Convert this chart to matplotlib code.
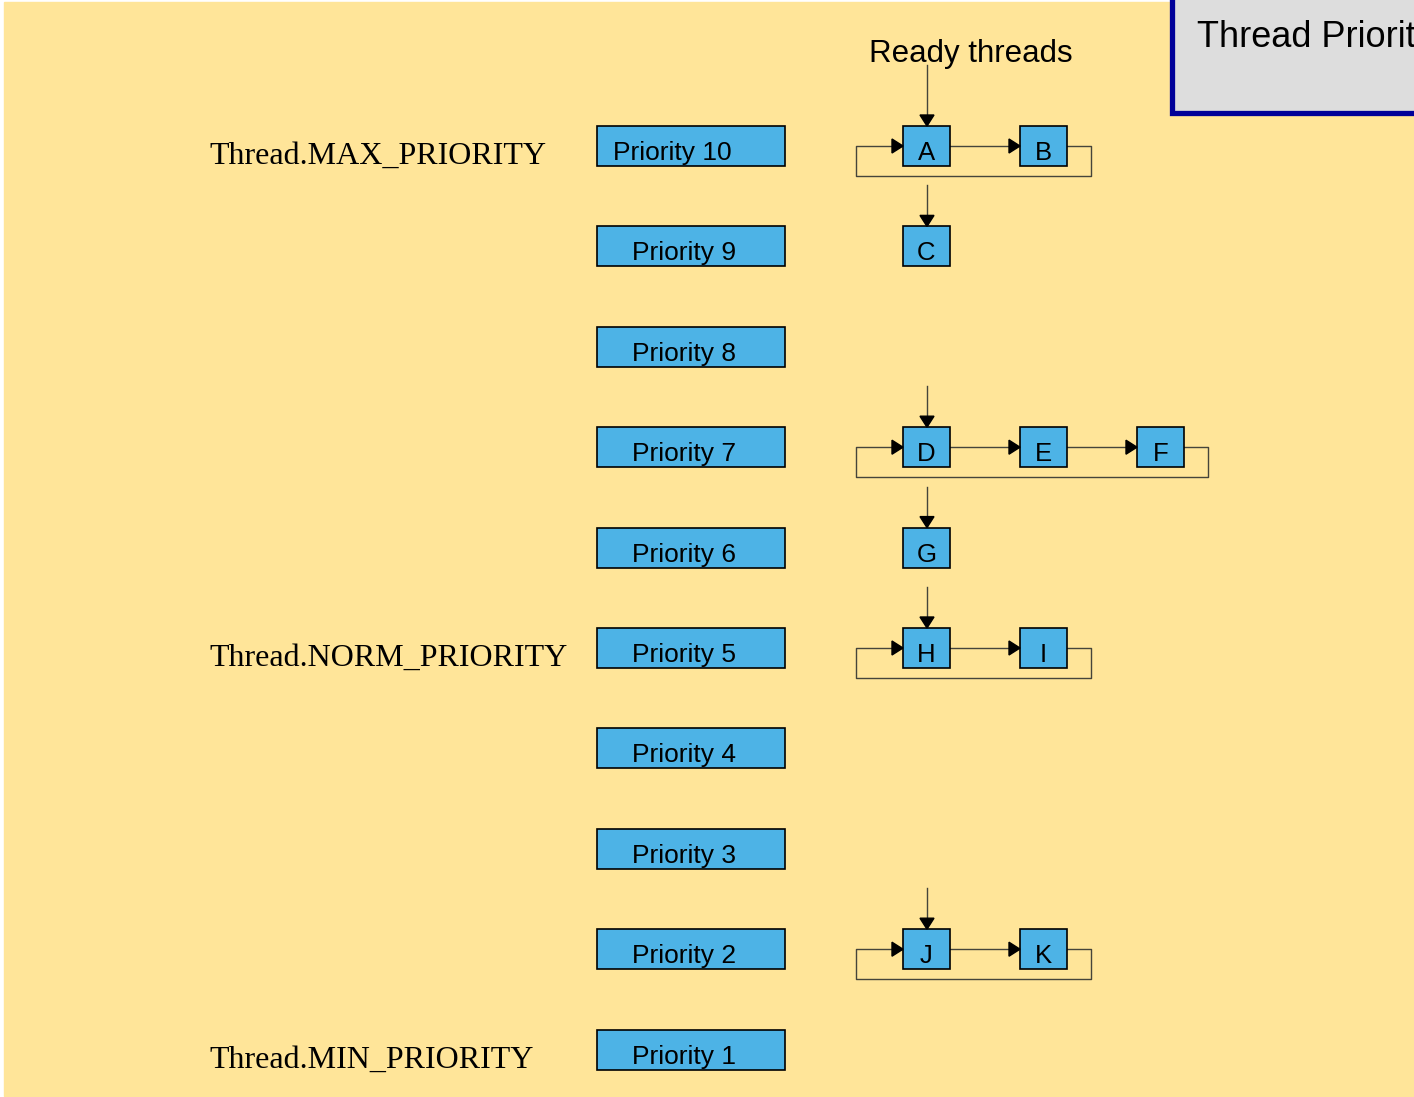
import matplotlib.pyplot as plt
from matplotlib.patches import Rectangle

# data
priorities = [10, 9, 8, 7, 6, 5, 4, 3, 2, 1]
priority_labels = ['Priority %d' % p for p in priorities]
constant_priorities = [10, 5, 1]
constant_names = ['Thread.MAX_PRIORITY', 'Thread.NORM_PRIORITY', 'Thread.MIN_PRIORITY']
queue_priorities = [10, 9, 7, 6, 5, 2]
queue_threads = [['A', 'B'], ['C'], ['D', 'E', 'F'], ['G'], ['H', 'I'], ['J', 'K']]

yellow = '#FFE599'
blue = '#4DB3E6'
line_c = '#45443a'

fig = plt.figure(figsize=(14.14, 10.97), dpi=100)
ax = fig.add_axes([0, 0, 1, 1])
ax.set_xlim(0, 1414)
ax.set_ylim(1097, 0)
ax.axis('off')

ax.add_patch(Rectangle((4, 2), 1410, 1094, color=yellow, zorder=0))


def row_top(p):
    return 126 + (10 - p) * 100.4


def head(x, y, direction):
    # small black triangle pointing right ('r') or down ('d')
    if direction == 'r':
        ax.fill([x, x - 11, x - 11], [y, y - 7, y + 7], color='black', zorder=4)
    else:
        ax.fill([x, x - 7, x + 7], [y, y - 11, y - 11], color='black', zorder=4)


# priority boxes
for p, lab in zip(priorities, priority_labels):
    top = row_top(p)
    ax.add_patch(Rectangle((597, top), 188, 40, facecolor=blue, edgecolor='black', lw=1.2, zorder=2))
    x0 = 613 if p == 10 else 632
    ax.text(x0, top + 34, lab, fontsize=19, family='Liberation Sans', ha='left', va='baseline', zorder=3)

# constant names
for p, name in zip(constant_priorities, constant_names):
    ax.text(209, row_top(p) + 38, name, fontsize=23, family='Liberation Serif', ha='left', va='baseline')

ax.text(971, 62, 'Ready threads', fontsize=22.5, family='Liberation Sans', ha='center', va='baseline')

# thread queues
for qi, (p, threads) in enumerate(zip(queue_priorities, queue_threads)):
    top = row_top(p)
    mid = top + 20
    xs = [903 + 117 * i for i in range(len(threads))]
    for x, t in zip(xs, threads):
        ax.add_patch(Rectangle((x, top), 47, 40, facecolor=blue, edgecolor='black', lw=1.2, zorder=2))
        ax.text(x + 23.5, top + 34, t, fontsize=18.5, family='Liberation Sans', ha='center', va='baseline', zorder=3)
    # entry arrow
    start = 65 if qi == 0 else top - 41
    ax.plot([927, 927], [start, top - 1], color=line_c, lw=1, zorder=1)
    head(927, top, 'd')
    if len(threads) > 1:
        for a, b in zip(xs[:-1], xs[1:]):
            ax.plot([a + 47, b - 1], [mid, mid], color=line_c, lw=1, zorder=1)
            head(b, mid, 'r')
        right = xs[-1] + 47 + 24
        bottom = top + 50
        ax.plot([xs[-1] + 47, right, right, 856, 856, 902], [mid, mid, bottom, bottom, mid, mid],
                color=line_c, lw=1, zorder=1)
        head(903, mid, 'r')

# title box in the corner
ax.add_patch(Rectangle((1172, -20), 280, 133, facecolor='#DDDDDD', edgecolor='#000099', lw=3.8, zorder=5,
                       clip_on=False))
ax.text(1197, 47, 'Thread Priorities', fontsize=26, family='Liberation Sans', ha='left', va='baseline', zorder=6)

fig.savefig('out.png', dpi=100)
